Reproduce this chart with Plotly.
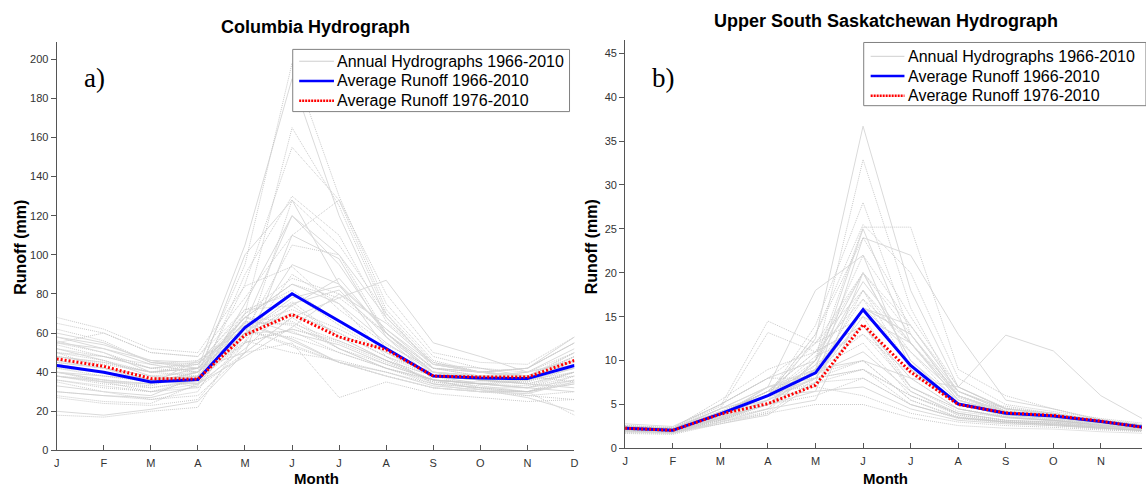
import plotly.graph_objects as go

# ---------------------------------------------------------------------------
# Data
# ---------------------------------------------------------------------------
month_labels = ["J", "F", "M", "A", "M", "J", "J", "A", "S", "O", "N", "D"]
years = list(range(1966, 2011))

# Columbia monthly runoff (mm), one row per year 1966-2010, Jan..Dec
columbia_annual = [
    [30, 28, 27, 33, 75, 120, 95, 60, 40, 36, 34, 32],
    [35, 30, 26, 30, 70, 165, 125, 70, 42, 38, 36, 40],
    [28, 25, 24, 34, 90, 130, 110, 66, 45, 40, 38, 35],
    [33, 30, 28, 38, 100, 128, 85, 52, 38, 34, 32, 30],
    [18, 17, 20, 22, 60, 105, 100, 60, 38, 32, 30, 18],
    [36, 32, 30, 36, 85, 155, 128, 72, 46, 40, 36, 38],
    [40, 38, 36, 42, 105, 190, 120, 68, 44, 42, 38, 42],
    [27, 24, 23, 26, 55, 90, 75, 48, 34, 30, 28, 26],
    [38, 35, 33, 40, 95, 198, 130, 75, 48, 42, 40, 45],
    [20, 18, 21, 25, 50, 110, 98, 58, 36, 31, 27, 20],
    [55, 50, 42, 45, 70, 88, 80, 60, 42, 40, 38, 50],
    [48, 45, 40, 38, 55, 62, 55, 45, 36, 35, 36, 44],
    [60, 55, 45, 42, 68, 85, 75, 55, 40, 38, 40, 52],
    [42, 40, 35, 34, 60, 76, 58, 46, 35, 33, 30, 35],
    [38, 36, 32, 35, 62, 70, 60, 48, 40, 37, 38, 48],
    [58, 52, 44, 40, 58, 95, 85, 62, 42, 40, 42, 55],
    [45, 42, 38, 32, 55, 128, 105, 70, 45, 40, 38, 42],
    [50, 48, 42, 40, 64, 72, 62, 50, 38, 36, 37, 46],
    [52, 46, 38, 36, 58, 74, 88, 60, 40, 38, 38, 44],
    [40, 35, 30, 32, 50, 68, 52, 42, 34, 32, 28, 30],
    [55, 60, 50, 48, 72, 80, 64, 50, 38, 36, 35, 42],
    [44, 40, 36, 38, 66, 56, 45, 40, 33, 31, 30, 34],
    [36, 33, 30, 34, 60, 58, 50, 42, 35, 32, 32, 40],
    [50, 42, 35, 40, 70, 82, 66, 52, 38, 36, 40, 50],
    [56, 50, 40, 42, 65, 120, 100, 68, 44, 40, 42, 58],
    [62, 56, 45, 44, 68, 85, 78, 60, 42, 38, 37, 50],
    [52, 48, 44, 46, 62, 54, 45, 38, 32, 30, 30, 38],
    [38, 35, 34, 40, 68, 60, 54, 44, 36, 34, 32, 36],
    [40, 36, 34, 38, 56, 50, 46, 40, 34, 32, 30, 34],
    [48, 44, 40, 44, 65, 65, 56, 46, 36, 34, 36, 48],
    [55, 52, 46, 45, 60, 78, 84, 62, 44, 40, 42, 55],
    [65, 60, 50, 48, 78, 110, 128, 80, 50, 45, 44, 58],
    [45, 42, 38, 40, 66, 64, 52, 44, 36, 34, 33, 40],
    [58, 54, 46, 42, 50, 68, 78, 87, 55, 48, 40, 46],
    [48, 45, 40, 42, 60, 70, 60, 48, 38, 36, 34, 40],
    [30, 28, 26, 28, 50, 55, 27, 35, 29, 27, 25, 26],
    [44, 40, 36, 34, 52, 75, 82, 58, 40, 38, 36, 42],
    [50, 46, 40, 42, 68, 66, 52, 42, 36, 34, 35, 46],
    [42, 38, 35, 40, 62, 53, 45, 38, 32, 30, 30, 36],
    [40, 36, 34, 46, 64, 57, 45, 38, 32, 30, 29, 35],
    [54, 48, 42, 44, 72, 74, 58, 46, 38, 36, 38, 48],
    [68, 62, 52, 50, 84, 94, 72, 54, 42, 40, 42, 55],
    [46, 42, 36, 34, 48, 63, 80, 65, 44, 40, 38, 44],
    [44, 40, 36, 38, 60, 61, 50, 42, 36, 34, 32, 38],
    [38, 34, 32, 36, 55, 62, 56, 46, 38, 36, 34, 40],
]
columbia_avg_1966_2010 = [43.4, 40.0, 35.0, 36.2, 62.8, 80.1, 66.2, 52.3, 38.0, 37.0, 36.7, 43.4]
columbia_avg_1976_2010 = [46.8, 43.0, 36.7, 36.5, 59.0, 69.5, 58.0, 51.5, 38.0, 37.5, 37.5, 46.0]

# Upper South Saskatchewan monthly runoff (mm), one row per year 1966-2010
sask_annual = [
    [2.0, 1.9, 3.5, 5.0, 9.0, 25.0, 12.0, 5.5, 4.0, 3.5, 2.8, 2.2],
    [2.2, 2.0, 3.2, 4.5, 10.0, 32.9, 16.0, 6.0, 4.2, 3.8, 3.0, 2.4],
    [2.5, 2.2, 4.0, 6.5, 12.0, 20.0, 14.0, 6.5, 4.5, 3.9, 3.2, 2.6],
    [2.1, 1.9, 3.8, 7.0, 18.0, 22.0, 9.0, 5.0, 3.8, 3.4, 2.8, 2.2],
    [1.8, 1.7, 3.0, 4.0, 8.0, 18.0, 11.0, 5.2, 3.6, 3.2, 2.6, 2.0],
    [2.3, 2.1, 3.6, 6.0, 14.0, 28.0, 13.0, 5.8, 4.0, 3.6, 3.0, 2.4],
    [2.4, 2.2, 4.2, 5.5, 12.5, 36.7, 18.0, 7.0, 4.5, 4.0, 3.2, 2.6],
    [1.9, 1.8, 3.0, 4.2, 9.5, 14.0, 8.0, 4.5, 3.6, 3.2, 2.7, 2.1],
    [2.6, 2.3, 3.5, 6.0, 13.0, 25.5, 20.0, 8.0, 5.0, 4.2, 3.4, 2.8],
    [2.0, 1.8, 2.8, 3.8, 7.5, 24.0, 22.0, 13.0, 5.5, 4.5, 3.2, 2.3],
    [2.4, 2.1, 3.8, 6.0, 10.0, 18.0, 12.0, 6.0, 4.2, 3.8, 3.0, 2.4],
    [2.2, 2.0, 3.5, 5.0, 6.0, 8.0, 5.0, 3.5, 3.0, 2.8, 2.4, 2.0],
    [2.5, 2.2, 4.5, 7.0, 8.0, 16.0, 13.0, 6.5, 4.5, 3.8, 3.0, 2.5],
    [2.0, 1.8, 3.0, 5.5, 9.0, 12.0, 6.0, 3.8, 3.0, 2.7, 2.4, 2.0],
    [2.3, 2.1, 4.0, 6.5, 11.0, 14.0, 8.0, 4.5, 3.5, 3.2, 2.7, 2.3],
    [2.8, 2.5, 5.0, 8.0, 10.0, 20.0, 10.0, 5.0, 4.0, 3.6, 3.0, 2.6],
    [2.1, 1.9, 3.2, 5.0, 10.0, 22.0, 14.0, 7.0, 4.5, 3.8, 3.0, 2.3],
    [2.4, 2.2, 4.0, 6.0, 10.5, 13.0, 8.5, 5.0, 4.0, 3.5, 2.8, 2.4],
    [2.2, 2.0, 3.6, 7.0, 8.5, 11.0, 6.5, 4.0, 3.2, 3.0, 2.5, 2.1],
    [2.0, 1.9, 3.3, 5.5, 8.0, 10.0, 5.5, 3.6, 3.0, 2.8, 2.3, 2.0],
    [2.6, 2.3, 5.5, 9.0, 11.0, 17.0, 9.0, 5.0, 4.8, 4.0, 3.0, 2.5],
    [2.5, 2.3, 4.5, 6.0, 6.5, 7.0, 4.5, 3.2, 2.8, 2.6, 2.3, 2.1],
    [2.2, 2.0, 4.0, 6.5, 7.0, 6.0, 4.0, 3.0, 2.6, 2.4, 2.1, 1.9],
    [2.0, 1.8, 3.5, 5.0, 9.0, 13.0, 7.0, 4.2, 3.5, 3.2, 2.6, 2.2],
    [2.3, 2.1, 3.8, 6.0, 9.5, 19.0, 12.0, 5.5, 4.0, 3.6, 2.9, 2.4],
    [2.4, 2.2, 4.2, 6.5, 11.0, 20.0, 13.0, 6.0, 4.2, 3.7, 3.0, 2.5],
    [2.6, 2.4, 5.0, 8.0, 8.0, 9.0, 6.0, 4.0, 3.2, 3.0, 2.5, 2.2],
    [2.3, 2.1, 4.5, 7.0, 9.0, 10.0, 8.0, 7.0, 12.9, 11.1, 6.0, 3.0],
    [2.1, 1.9, 3.8, 6.5, 8.5, 10.0, 5.5, 3.5, 3.0, 2.7, 2.3, 2.0],
    [2.2, 2.0, 3.5, 5.0, 10.0, 25.2, 25.2, 9.0, 6.0, 4.5, 3.3, 2.6],
    [2.4, 2.2, 3.5, 5.0, 9.0, 16.0, 13.0, 6.0, 4.2, 3.6, 2.9, 2.4],
    [2.5, 2.3, 4.0, 6.0, 13.0, 24.0, 15.0, 7.0, 4.6, 4.0, 3.2, 2.6],
    [2.4, 2.2, 4.5, 13.2, 11.0, 14.0, 7.0, 4.5, 3.6, 3.2, 2.7, 2.3],
    [2.3, 2.1, 3.6, 6.0, 8.0, 15.0, 12.0, 6.0, 4.0, 3.5, 2.8, 2.3],
    [2.0, 1.8, 3.2, 5.5, 8.0, 9.0, 5.0, 3.4, 2.9, 2.6, 2.2, 1.9],
    [1.7, 1.6, 2.8, 4.0, 5.0, 5.0, 3.5, 2.6, 2.3, 2.2, 1.9, 1.7],
    [1.9, 1.7, 3.0, 4.5, 5.5, 16.0, 14.0, 6.5, 4.2, 3.5, 2.7, 2.2],
    [2.3, 2.1, 4.0, 6.5, 9.0, 14.0, 6.5, 3.8, 3.1, 2.9, 2.4, 2.0],
    [2.1, 1.9, 3.5, 6.0, 7.5, 8.0, 5.0, 3.5, 3.0, 2.7, 2.3, 2.0],
    [2.0, 1.8, 3.4, 5.0, 6.5, 20.0, 10.0, 5.5, 4.0, 3.5, 2.8, 2.2],
    [2.4, 2.2, 4.8, 14.5, 12.0, 15.0, 7.0, 4.5, 3.5, 3.1, 2.6, 2.2],
    [2.5, 2.3, 5.0, 8.0, 12.0, 18.0, 9.0, 5.0, 3.8, 3.3, 2.7, 2.3],
    [2.2, 2.0, 3.6, 5.5, 8.0, 16.0, 11.0, 6.0, 4.0, 3.5, 2.8, 2.3],
    [2.0, 1.8, 3.2, 5.0, 7.5, 9.0, 6.0, 4.0, 3.2, 2.9, 2.4, 2.0],
    [2.1, 1.9, 3.4, 4.5, 9.0, 17.0, 12.0, 6.5, 4.3, 3.7, 2.9, 2.3],
]
sask_avg_1966_2010 = [2.3, 2.06, 3.94, 6.0, 8.6, 15.8, 9.45, 5.06, 4.0, 3.7, 3.07, 2.35]
sask_avg_1976_2010 = [2.3, 2.06, 3.9, 5.1, 7.2, 14.1, 8.7, 5.0, 4.05, 3.75, 3.1, 2.3]

legend_labels = ["Annual Hydrographs 1966-2010",
                 "Average Runoff 1966-2010",
                 "Average Runoff 1976-2010"]

month_index = list(range(len(month_labels)))

# ---------------------------------------------------------------------------
# Styles
# ---------------------------------------------------------------------------
W, H = 1146, 487
FONT = "Liberation Sans, Arial, sans-serif"
SERIF = "Liberation Serif, Times New Roman, serif"
ANNUAL_SOLID = dict(color="#dadada", width=1, dash="solid")
ANNUAL_DOT = dict(color="#c9c9c9", width=1, dash="1px,1px")
AVG_ALL = dict(color="#0000ff", width=3)
AVG_RECENT = dict(color="#ff0000", width=3, dash="2px,2px")

fig = go.Figure()


def add_panel(annual, avg_all, avg_recent, xa, ya):
    for i, vals in enumerate(annual):
        fig.add_trace(go.Scatter(
            x=month_index, y=vals, mode="lines",
            line=ANNUAL_SOLID if i % 3 == 0 else ANNUAL_DOT,
            name=f"{legend_labels[0]} ({years[i]})", showlegend=False,
            xaxis=xa, yaxis=ya, hoverinfo="skip",
        ))
    fig.add_trace(go.Scatter(x=month_index, y=avg_all, mode="lines", line=AVG_ALL,
                             name=legend_labels[1], showlegend=False, xaxis=xa, yaxis=ya))
    fig.add_trace(go.Scatter(x=month_index, y=avg_recent, mode="lines", line=AVG_RECENT,
                             name=legend_labels[2], showlegend=False, xaxis=xa, yaxis=ya))


add_panel(columbia_annual, columbia_avg_1966_2010, columbia_avg_1976_2010, "x", "y")
add_panel(sask_annual, sask_avg_1966_2010, sask_avg_1976_2010, "x2", "y2")


def px_x(p):
    return p / W


def px_y(p):
    return 1 - p / H


axis_common = dict(
    showline=True, linecolor="#555555", linewidth=1, showgrid=False, zeroline=False,
    tickfont=dict(family=FONT, size=11, color="#333333"), tickcolor="#555555",
    ticklen=5, tickwidth=1, mirror=False,
)
xaxis_common = dict(axis_common, tickmode="array", tickvals=month_index,
                    ticktext=month_labels, ticks="inside", ticklabelstandoff=2)
yaxis_common = dict(axis_common, ticks="outside")

fig.update_layout(
    width=W, height=H,
    margin=dict(l=0, r=0, t=0, b=0),
    paper_bgcolor="white", plot_bgcolor="white",
    font=dict(family=FONT, color="black"),
    hovermode=False, showlegend=False,
    xaxis=dict(xaxis_common, domain=[px_x(54), px_x(575)], range=[0, 11], anchor="y"),
    yaxis=dict(yaxis_common, domain=[px_y(456), px_y(43)], range=[0, 208.6],
               tickvals=list(range(0, 201, 20)), anchor="x"),
    xaxis2=dict(xaxis_common, domain=[px_x(626), 1.0], range=[0, 10.863], anchor="y2"),
    yaxis2=dict(yaxis_common, domain=[px_y(454), px_y(40)], range=[0, 46.57],
                tickvals=list(range(0, 46, 5)), anchor="x2"),
)

shapes = []
annotations = []


def add_legend(box, sample_x, text_x, rows_y):
    x0, y0, x1, y1 = box
    shapes.append(dict(type="rect", xref="paper", yref="paper",
                       x0=px_x(x0), x1=px_x(x1), y0=px_y(y1), y1=px_y(y0),
                       line=dict(color="#808080", width=1), fillcolor="white", layer="above"))
    styles = [dict(color="#cfcfcf", width=1), dict(AVG_ALL, width=2.5),
              dict(AVG_RECENT, width=2.5, dash="2px,1px")]
    for label, style, ry in zip(legend_labels, styles, rows_y):
        shapes.append(dict(type="line", xref="paper", yref="paper",
                           x0=px_x(sample_x[0]), x1=px_x(sample_x[1]),
                           y0=px_y(ry), y1=px_y(ry), line=style, layer="above"))
        annotations.append(dict(text=label, x=px_x(text_x), y=px_y(ry), xanchor="left",
                                font=dict(size=16)))


add_legend((291.5, 50, 570, 113), (298, 333), 334.5, (62, 82, 102))
add_legend((866, 43, 1150, 107), (873, 907), 909, (57, 77, 97))

annotations += [
    dict(text="<b>Columbia Hydrograph</b>", x=px_x(314), y=px_y(27), font=dict(size=18)),
    dict(text="<b>Upper South Saskatchewan Hydrograph</b>", x=px_x(888), y=px_y(21), font=dict(size=18)),
    dict(text="a)", x=px_x(92), y=px_y(79), font=dict(family=SERIF, size=27)),
    dict(text="b)", x=px_x(665), y=px_y(79), font=dict(family=SERIF, size=27)),
    dict(text="<b>Runoff (mm)</b>", x=px_x(18), y=px_y(250), textangle=-90, font=dict(size=16)),
    dict(text="<b>Runoff (mm)</b>", x=px_x(593), y=px_y(250), textangle=-90, font=dict(size=16)),
    dict(text="<b>Month</b>", x=px_x(315), y=px_y(484), font=dict(size=15)),
    dict(text="<b>Month</b>", x=px_x(888), y=px_y(484), font=dict(size=15)),
]
for a in annotations:
    a.setdefault("xanchor", "center")
    a.update(xref="paper", yref="paper", showarrow=False, yanchor="middle")
    a["font"] = dict(dict(family=FONT, color="black"), **a["font"])

fig.update_layout(shapes=shapes, annotations=annotations)

fig.write_html("out.html")
